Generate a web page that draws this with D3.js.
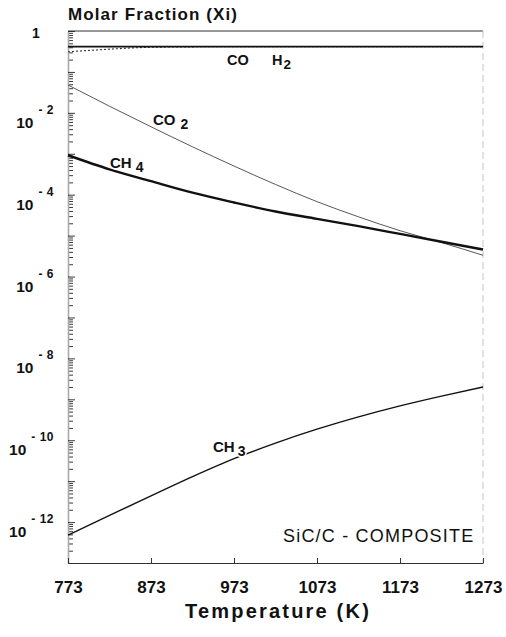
<!DOCTYPE html>
<html>
<head>
<meta charset="utf-8">
<script src="https://cdn.jsdelivr.net/npm/d3@7"></script>
<style>
  html, body { margin: 0; padding: 0; background: #fff; }
  svg { display: block; font-family: "Liberation Sans", Arial, Helvetica, sans-serif; }
</style>
</head>
<body>
<svg id="chart" width="506" height="637"></svg>
<script>
// Temperatures (K) at which the equilibrium composition was evaluated
const temperatures = [773, 823, 873, 923, 973, 1023, 1073, 1123, 1173, 1223, 1273];

// Molar fractions of the gas species over SiC/C
const xH2  = [0.415, 0.415, 0.415, 0.415, 0.415, 0.415, 0.415, 0.415, 0.415, 0.415, 0.415];
const xCO  = [0.31, 0.36, 0.40, 0.41, 0.415, 0.415, 0.415, 0.415, 0.415, 0.415, 0.415];
const xCO2 = [4.79e-2, 1.45e-2, 4.57e-3, 1.48e-3, 5.01e-4, 1.78e-4, 6.76e-5, 2.88e-5, 1.32e-5, 6.76e-6, 3.31e-6];
const xCH4 = [9.2e-4, 4.17e-4, 2.14e-4, 1.12e-4, 6.46e-5, 3.89e-5, 2.57e-5, 1.70e-5, 1.10e-5, 7.1e-6, 4.57e-6];
const xCH3 = [4.79e-13, 1.45e-12, 4.37e-12, 1.29e-11, 3.55e-11, 8.51e-11, 1.86e-10, 3.72e-10, 6.92e-10, 1.20e-9, 2.0e-9];

// Axis ticks
const tempTicks = [773, 873, 973, 1073, 1173, 1273];
const labelledExponents = [0, -2, -4, -6, -8, -10, -12];

const svg = d3.select("#chart");
const plotL = 68, plotR = 483, plotT = 31, plotB = 563;

const x = d3.scaleLinear().domain([773, 1273]).range([plotL, plotR]);
const y = d3.scaleLog().domain([1e-13, 1]).range([plotB, plotT]);

// Frame: top edge and faint right edge
svg.append("line").attr("x1", plotL).attr("x2", plotR).attr("y1", plotT).attr("y2", plotT)
  .attr("stroke", "#333").attr("stroke-width", 1);
svg.append("line").attr("x1", plotR).attr("x2", plotR).attr("y1", plotT).attr("y2", plotB)
  .attr("stroke", "#c4c4c4").attr("stroke-width", 1).attr("stroke-dasharray", "7 4");

// Log axis: decade ticks plus 2..9 minor ticks, pointing inward
const decades = d3.range(-13, 1).map(e => Math.pow(10, e));
const minors = [];
d3.range(-13, 0).forEach(e => {
  for (let m = 2; m <= 9; m++) minors.push(m * Math.pow(10, e));
});

const yMinor = svg.append("g").attr("transform", `translate(${plotL},0)`)
  .call(d3.axisRight(y).tickValues(minors).tickSize(5).tickFormat(""));
const yMajor = svg.append("g").attr("transform", `translate(${plotL},0)`)
  .call(d3.axisRight(y).tickValues(decades).tickSize(7).tickSizeOuter(0).tickFormat(""));
[yMinor, yMajor].forEach(g => {
  g.selectAll(".tick line").attr("stroke", "#222").attr("stroke-width", 0.9);
  g.select(".domain").attr("stroke", "#aaa").attr("stroke-width", 1.6);
});
yMinor.select(".domain").remove();

// Decade labels written as 10 with a raised exponent
labelledExponents.forEach(e => {
  const ty = y(Math.pow(10, e));
  if (e === 0) {
    svg.append("text").attr("x", 36).attr("y", ty + 7)
      .attr("text-anchor", "middle").attr("font-size", 14).attr("font-weight", "bold")
      .attr("fill", "#111").text("1");
  } else {
    const t = svg.append("text").attr("x", 54).attr("y", ty + 15)
      .attr("text-anchor", "end").attr("fill", "#111").attr("font-weight", "bold");
    t.append("tspan").attr("font-size", 15.5).text("10");
    t.append("tspan").attr("font-size", 12).attr("dx", 5).attr("dy", -14)
      .attr("letter-spacing", 0.5).text("- " + (-e));
  }
});

// Temperature axis
const xAxis = svg.append("g").attr("transform", `translate(0,${plotB})`)
  .call(d3.axisBottom(x).tickValues(tempTicks).tickSizeInner(-5).tickSizeOuter(0).tickPadding(18).tickFormat(d3.format("d")));
xAxis.select(".domain").attr("stroke", "#333").attr("stroke-width", 1);
xAxis.selectAll(".tick line").attr("stroke", "#333");
xAxis.selectAll(".tick text").attr("font-size", 17).attr("font-weight", "bold")
  .attr("fill", "#111").attr("font-family", "'Liberation Sans', Arial, sans-serif");

// Titles
svg.append("text").attr("x", 68).attr("y", 20)
  .attr("font-size", 17).attr("font-weight", "bold").attr("letter-spacing", 1.1)
  .attr("fill", "#111").text("Molar Fraction (Xi)");
svg.append("text").attr("x", 278).attr("y", 618).attr("text-anchor", "middle")
  .attr("font-size", 20).attr("font-weight", "bold").attr("letter-spacing", 2.2)
  .attr("fill", "#111").text("Temperature (K)");

// Species curves
const line = d3.line().x((d, i) => x(temperatures[i])).y(d => y(d)).curve(d3.curveMonotoneX);
const plot = svg.append("g");

plot.append("path").datum(xCO2).attr("d", line).attr("fill", "none")
  .attr("stroke", "#444").attr("stroke-width", 0.9);
plot.append("path").datum(xCH4).attr("d", line).attr("fill", "none")
  .attr("stroke", "#111").attr("stroke-width", 2.4);
plot.append("path").datum(xCH3).attr("d", line).attr("fill", "none")
  .attr("stroke", "#111").attr("stroke-width", 1.4);
plot.append("path").datum(xCO).attr("d", line).attr("fill", "none")
  .attr("stroke", "#333").attr("stroke-width", 1.1).attr("stroke-dasharray", "2 2");
plot.append("path").datum(xH2).attr("d", line).attr("fill", "none")
  .attr("stroke", "#111").attr("stroke-width", 1.6);

// Species labels with subscripts
function species(xp, yp, main, sub, gap, size) {
  const t = svg.append("text").attr("x", xp).attr("y", yp)
    .attr("font-size", size).attr("font-weight", "bold").attr("fill", "#111")
    .attr("stroke", "#fff").attr("stroke-width", 3).attr("paint-order", "stroke");
  t.append("tspan").text(main);
  if (sub) t.append("tspan").attr("dx", gap).attr("dy", 4).attr("font-size", size - 1).text(sub);
}
species(227, 65, "CO", null, 0, 14.5);
species(272, 65, "H", "2", 1, 14.5);
species(153, 125, "CO", "2", 5, 15);
species(110, 168, "CH", "4", 4, 15);
species(213, 452, "CH", "3", 3, 15);

svg.append("text").attr("x", 283).attr("y", 542)
  .attr("font-size", 18).attr("letter-spacing", 1.2).attr("fill", "#111")
  .text("SiC/C - COMPOSITE");
</script>
</body>
</html>
